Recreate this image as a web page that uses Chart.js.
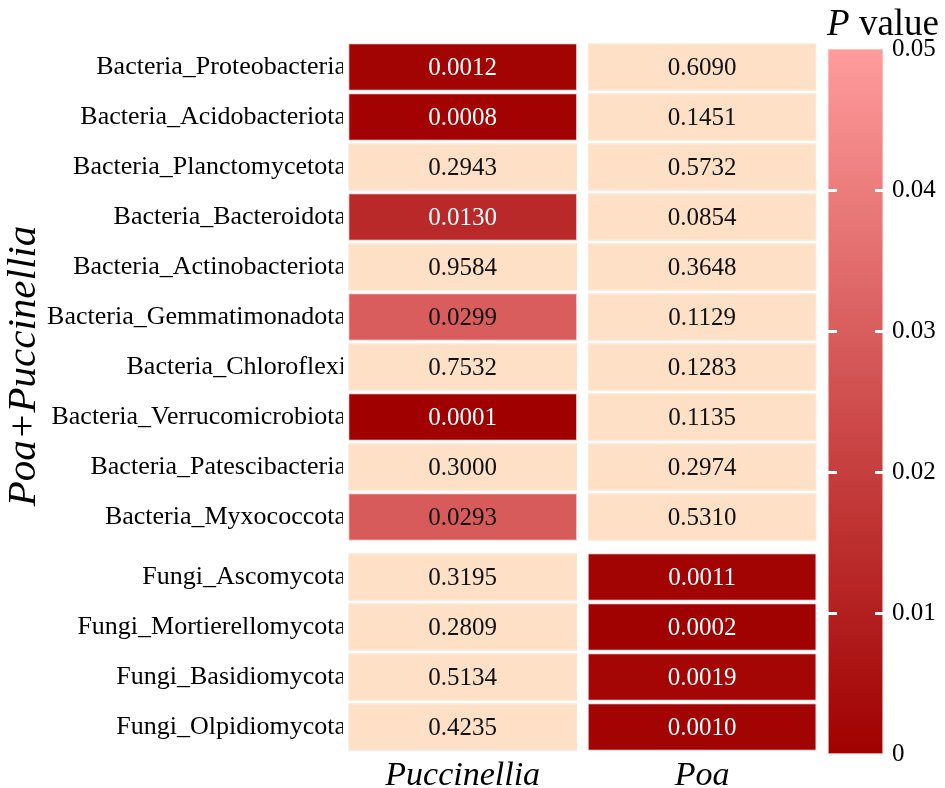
<!DOCTYPE html>
<html>
<head>
<meta charset="utf-8">
<script src="https://cdn.jsdelivr.net/npm/chart.js@4.4.1/dist/chart.umd.min.js"></script>
<style>
    html, body { margin: 0; padding: 0; background: #ffffff; }
    canvas { display: block; }
</style>
</head>
<body>
<canvas id="heatChart" width="945" height="788"></canvas>
<script>
// taxa (rows, top to bottom)
const rowNames = [
    "Bacteria_Proteobacteria",
    "Bacteria_Acidobacteriota",
    "Bacteria_Planctomycetota",
    "Bacteria_Bacteroidota",
    "Bacteria_Actinobacteriota",
    "Bacteria_Gemmatimonadota",
    "Bacteria_Chloroflexi",
    "Bacteria_Verrucomicrobiota",
    "Bacteria_Patescibacteria",
    "Bacteria_Myxococcota",
    "Fungi_Ascomycota",
    "Fungi_Mortierellomycota",
    "Fungi_Basidiomycota",
    "Fungi_Olpidiomycota"
];
const colNames = ["Puccinellia", "Poa"];

// P values per column
const puccinelliaP = [0.0012, 0.0008, 0.2943, 0.0130, 0.9584, 0.0299, 0.7532, 0.0001, 0.3000, 0.0293, 0.3195, 0.2809, 0.5134, 0.4235];
const poaP = [0.6090, 0.1451, 0.5732, 0.0854, 0.3648, 0.1129, 0.1283, 0.1135, 0.2974, 0.5310, 0.0011, 0.0002, 0.0019, 0.0010];

// colour bar
const colorbarTicks = [0, 0.01, 0.02, 0.03, 0.04, 0.05];
const pMax = 0.05;

const serif = "'Liberation Serif', 'DejaVu Serif', serif";
const darkRed = [160, 0, 0];
const lightRed = [255, 156, 156];
const peach = "#fde0c5";

function pColor(p) {
    if (p >= pMax) {
        return peach;
    }
    const t = p / pMax;
    const r = Math.round(darkRed[0] + (lightRed[0] - darkRed[0]) * t);
    const g = Math.round(darkRed[1] + (lightRed[1] - darkRed[1]) * t);
    const b = Math.round(darkRed[2] + (lightRed[2] - darkRed[2]) * t);
    return "rgb(" + r + "," + g + "," + b + ")";
}

// bacteria and fungi blocks are separated by a small gap
const groupGap = 0.2;
const fungiStart = 10;
function rowPosition(i) {
    return i + 0.5 + (i >= fungiStart ? groupGap : 0);
}
const rowPos = rowNames.map(function (name, i) { return rowPosition(i); });

const cellInset = 0.022;
function columnData(values, col) {
    return values.map(function (p, i) {
        return { x: [col + cellInset, col + 1 - cellInset], y: rowPos[i] };
    });
}

const barLeft = 2.026;
const barRight = 2.2557;

const columnValues = [puccinelliaP, poaP];
const heatDatasets = columnValues.map(function (values, col) {
    return {
        label: colNames[col],
        data: columnData(values, col),
        backgroundColor: values.map(pColor),
        borderColor: values.map(function (p) { return p < pMax ? "rgba(250,200,200,0.9)" : peach; }),
        borderWidth: 1,
        borderSkipped: false,
        grouped: false,
        categoryPercentage: 1,
        barPercentage: 0.95,
        xAxisID: "x",
        yAxisID: "y"
    };
});

const colorbarDataset = {
    label: "P value",
    data: [{ x: [barLeft, barRight], y: pMax / 2 }],
    backgroundColor: function (context) {
        const chart = context.chart;
        const scale = chart.scales.y2;
        if (!chart.chartArea || !scale) {
            return pColor(0);
        }
        const grad = chart.ctx.createLinearGradient(0, scale.getPixelForValue(0), 0, scale.getPixelForValue(pMax));
        grad.addColorStop(0, pColor(0));
        grad.addColorStop(1, pColor(pMax * 0.9999));
        return grad;
    },
    borderColor: "rgba(250,200,200,0.9)",
    borderWidth: 1,
    borderSkipped: false,
    grouped: false,
    barThickness: 705,
    clip: false,
    xAxisID: "x",
    yAxisID: "y2"
};

const cellTextPlugin = {
    id: "cellText",
    afterDatasetsDraw: function (chart) {
        const ctx = chart.ctx;
        ctx.save();
        ctx.font = "25px " + serif;
        ctx.textAlign = "center";
        ctx.textBaseline = "middle";
        columnValues.forEach(function (values, col) {
            const meta = chart.getDatasetMeta(col);
            meta.data.forEach(function (bar, i) {
                const p = values[i];
                const pt = bar.getCenterPoint();
                ctx.fillStyle = p < 0.02 ? "#ffffff" : "#111111";
                ctx.fillText(p.toFixed(4), pt.x, pt.y + 1);
            });
        });

        // white tick marks on the colour bar
        const xs = chart.scales.x;
        const y2 = chart.scales.y2;
        const left = xs.getPixelForValue(barLeft);
        const right = xs.getPixelForValue(barRight);
        ctx.strokeStyle = "#ffffff";
        ctx.lineWidth = 3;
        colorbarTicks.slice(1, -1).forEach(function (v) {
            const y = Math.round(y2.getPixelForValue(v)) + 0.5;
            ctx.beginPath();
            ctx.moveTo(left, y);
            ctx.lineTo(left + 9, y);
            ctx.moveTo(right - 8, y);
            ctx.lineTo(right, y);
            ctx.stroke();
        });

        // y axis title
        ctx.fillStyle = "#000000";
        ctx.font = "italic 41px " + serif;
        ctx.textBaseline = "alphabetic";
        ctx.translate(35, 366);
        ctx.rotate(-Math.PI / 2);
        ctx.fillText("Poa+Puccinellia", 0, 0);
        ctx.restore();

        // colour bar title
        ctx.save();
        ctx.fillStyle = "#000000";
        ctx.textBaseline = "alphabetic";
        ctx.font = "italic 37px " + serif;
        const pWidth = ctx.measureText("P").width;
        ctx.font = "37px " + serif;
        const restWidth = ctx.measureText(" value").width;
        const startX = 939 - pWidth - restWidth;
        ctx.font = "italic 37px " + serif;
        ctx.fillText("P", startX, 35);
        ctx.font = "37px " + serif;
        ctx.fillText(" value", startX + pWidth, 35);
        ctx.restore();
    }
};

const chartCtx = document.getElementById("heatChart").getContext("2d");
new Chart(chartCtx, {
    type: "bar",
    data: {
        datasets: heatDatasets.concat([colorbarDataset])
    },
    options: {
        indexAxis: "y",
        responsive: false,
        animation: false,
        layout: {
            autoPadding: false,
            padding: { top: 42, left: 0, right: 0, bottom: 0 }
        },
        scales: {
            x: {
                type: "linear",
                position: "bottom",
                min: 0,
                max: barRight,
                offset: false,
                afterBuildTicks: function (scale) {
                    scale.ticks = colNames.map(function (n, i) { return { value: i + 0.5 }; });
                },
                afterFit: function (scale) { scale.height = 36; },
                ticks: {
                    autoSkip: false,
                    maxRotation: 0,
                    padding: 4,
                    color: "#000000",
                    font: { family: serif, size: 34, style: "italic" },
                    callback: function (value, index) { return colNames[index]; }
                },
                grid: { display: false, drawTicks: false, offset: false },
                border: { display: false }
            },
            y: {
                type: "linear",
                position: "left",
                reverse: true,
                min: 0,
                max: rowNames.length + groupGap,
                offset: false,
                afterBuildTicks: function (scale) {
                    scale.ticks = rowPos.map(function (v) { return { value: v }; });
                },
                afterFit: function (scale) { scale.width = 343; },
                ticks: {
                    autoSkip: false,
                    padding: -3,
                    color: "#000000",
                    font: { family: serif, size: 26 },
                    callback: function (value, index) { return rowNames[index]; }
                },
                grid: { display: false, drawTicks: false, offset: false },
                border: { display: false }
            },
            y2: {
                type: "linear",
                position: "right",
                min: 0.00014,
                max: 0.0505,
                offset: false,
                afterBuildTicks: function (scale) {
                    scale.ticks = colorbarTicks.map(function (v) { return { value: v }; });
                },
                afterFit: function (scale) { scale.width = 62; },
                ticks: {
                    autoSkip: false,
                    padding: 9,
                    color: "#000000",
                    font: { family: serif, size: 25 },
                    callback: function (value) { return value === 0 ? "0" : value.toFixed(2); }
                },
                grid: { display: false, drawTicks: false, offset: false },
                border: { display: false }
            }
        },
        plugins: {
            legend: { display: false },
            tooltip: { enabled: false }
        }
    },
    plugins: [cellTextPlugin]
});
</script>
</body>
</html>
